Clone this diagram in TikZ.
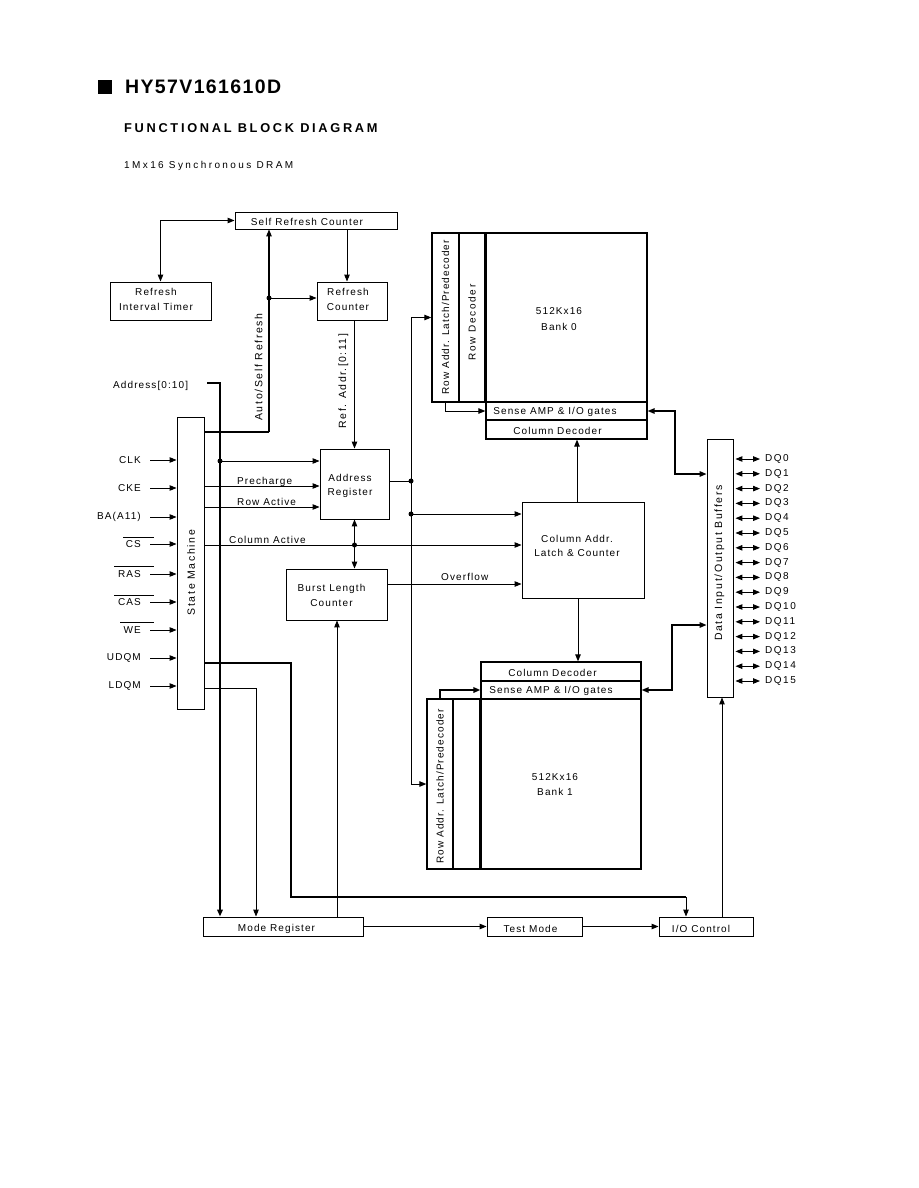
\documentclass[tikz,border=0pt]{standalone}
\usepackage{fontspec}
\setmainfont{Liberation Sans}
\usetikzlibrary{arrows.meta}
\newcommand{\lsp}[1]{\addfontfeature{LetterSpace=#1}}
\begin{document}
\begin{tikzpicture}[x=1pt,y=-1pt,>={Triangle[length=7pt,width=5.5pt]},
  box/.style={draw,line width=0.9pt,inner sep=0pt},
  bk/.style={draw,line width=1.3pt,inner sep=0pt},
  txt/.style={inner sep=0pt,align=center,font=\fontsize{10}{14}\selectfont\lsp{11}},
  dqt/.style={inner sep=0pt,anchor=west,font=\fontsize{10}{14}\selectfont\lsp{15}},
  rtxt/.style={inner sep=0pt,rotate=90,font=\fontsize{10.5}{12}\selectfont\lsp{16}},
  ln/.style={line width=0.95pt},
  thk/.style={line width=2pt},
  dot/.style={circle,fill,inner sep=0pt,minimum size=5pt}]
\fill[white] (0,0) rectangle (918,1188);
\useasboundingbox (0,0) rectangle (918,1188);

% ---------- heading ----------
\node[fill,minimum size=14pt,inner sep=0pt] (sq) at (104.5,87) {};
\node[anchor=west,inner sep=0pt,font=\fontsize{19.5}{22}\selectfont\bfseries\lsp{7}] (title) at (125,87) {HY57V161610D};
\node[anchor=west,inner sep=0pt,font=\fontsize{12.8}{14}\selectfont\bfseries\lsp{21}] (sub) at (124,128) {FUNCTIONAL BLOCK DIAGRAM};
\node[anchor=west,inner sep=0pt,font=\fontsize{10}{12}\selectfont\lsp{24}] (dev) at (124,166) {1Mx16 Synchronous DRAM};

% ---------- boxes ----------
\node[box,minimum width=162pt,minimum height=17pt] (src) at (316,220.5) {};
\node[box,minimum width=101pt,minimum height=38pt] (rit) at (160.5,301) {};
\node[box,minimum width=70pt,minimum height=38pt] (rc) at (352,301) {};
\node[box,minimum width=27pt,minimum height=292pt] (sm) at (190.5,563) {};
\node[box,minimum width=69pt,minimum height=70pt] (ar) at (354.5,484) {};
\node[box,minimum width=101pt,minimum height=51pt] (blc) at (336.5,594.5) {};
\node[box,minimum width=122pt,minimum height=96pt] (cal) at (583,550) {};
% bank 0
\node[bk,minimum width=27pt,minimum height=169pt] (lat0) at (445.5,317.5) {};
\node[bk,minimum width=27pt,minimum height=169pt] (rdec0) at (472.5,317.5) {};
\node[bk,minimum width=161pt,minimum height=169pt] (arr0) at (566.5,317.5) {};
\node[bk,minimum width=161pt,minimum height=18pt] (sa0) at (566.5,411) {};
\node[bk,minimum width=161pt,minimum height=19pt] (cd0) at (566.5,429.5) {};
\draw[thk] (arr0.north west) -- (arr0.south west);
% bank 1
\node[bk,minimum width=160pt,minimum height=19pt] (cd1) at (561,671.5) {};
\node[bk,minimum width=160pt,minimum height=18pt] (sa1) at (561,690) {};
\node[bk,minimum width=160pt,minimum height=170pt] (arr1) at (561,784) {};
\node[bk,minimum width=26pt,minimum height=170pt] (lat1) at (440,784) {};
\node[bk,minimum width=28pt,minimum height=170pt] (rdec1) at (467,784) {};
\draw[thk] (arr1.north west) -- (arr1.south west);
\node[box,minimum width=26pt,minimum height=258pt] (dio) at (720,568) {};
\node[box,minimum width=160pt,minimum height=19pt] (mr) at (283,926.5) {};
\node[box,minimum width=95pt,minimum height=19pt] (tm) at (534.5,926.5) {};
\node[box,minimum width=94pt,minimum height=19pt] (ioc) at (706,926.5) {};

% ---------- box texts ----------
\node[txt] (tsrc) at (307,222) {Self Refresh Counter};
\node[txt] (trit) at (156,299.5) {Refresh\\[1pt]Interval Timer};
\node[txt] (trc) at (348,299.5) {Refresh\\[1pt]Counter};
\node[txt] (tar) at (350,486) {Address\\Register};
\node[txt] (tblc) at (331.5,595.5) {Burst Length\\[1pt]Counter};
\node[txt] (tcal) at (577,546) {Column Addr.\\Latch \& Counter};
\node[txt] (tarr0) at (559,319) {512Kx16\\[2pt]Bank 0};
\node[txt] (tsa0) at (555,412) {Sense AMP \& I/O gates};
\node[txt] (tcd0) at (557.5,431) {Column Decoder};
\node[txt] (tcd1) at (552.5,673) {Column Decoder};
\node[txt] (tsa1) at (551,691) {Sense AMP \& I/O gates};
\node[txt] (tarr1) at (555,784.5) {512Kx16\\[1pt]Bank 1};
\node[rtxt,font=\fontsize{10}{12}\selectfont\lsp{11}] (tlat0) at (445.5,317.5) {Row Addr. Latch/Predecoder};
\node[rtxt,font=\fontsize{10}{12}\selectfont\lsp{17}] (trdec0) at (472,322.5) {Row Decoder};
\node[rtxt,font=\fontsize{10}{12}\selectfont\lsp{11}] (tlat1) at (440,786.5) {Row Addr. Latch/Predecoder};
\node[rtxt] (tsm) at (191,572.5) {State Machine};
\node[rtxt] (tdio) at (719.5,563) {Data Input/Output Buffers};
\node[txt] (tmr) at (276.5,929) {Mode Register};
\node[txt] (ttm) at (530.5,929) {Test Mode};
\node[txt] (tioc) at (701,929) {I/O Control};

% ---------- refresh section ----------
\draw[ln,<->] (src.west) -| (rit.north);
\coordinate (x347) at (347,0);
\draw[ln,->] (x347 |- src.south) -- (x347 |- rc.north);
\coordinate (as) at (269,432);
\coordinate (asd) at (269,298);
\draw[thk] (sm.east |- as) -- (as);
\draw[line width=1.1pt,->] (as) -- (as |- src.south);
\draw[ln,->] (asd) -- (asd -| rc.west);
\node[dot] (dasd) at (asd) {};
\node[rtxt] (tas) at (258.5,367) {Auto/Self Refresh};
\draw[ln,->] (rc.south -| ar.north) -- (ar.north);
\node[rtxt,font=\fontsize{10.5}{12}\selectfont\lsp{14}] (tra) at (343.5,381) {Ref. Addr.[0:11]};

% ---------- address bus ----------
\node[txt,anchor=west] (addr) at (113,386) {Address[0:10]};
\coordinate (a1) at (207,383);
\coordinate (a2) at (220,383);
\draw[thk,->] (a1) -- (a2) -- (a2 |- mr.north);
\coordinate (d1) at (220,461);
\node[dot] (dd1) at (d1) {};
\draw[ln,->] (d1) -- (d1 -| ar.west);

% ---------- inputs ----------
\foreach \nm/\lab/\yy in {clk/CLK/460,cke/CKE/488,ba/BA(A11)/517,cs/CS/544,ras/RAS/574,cas/CAS/602,we/WE/630,udqm/UDQM/658,ldqm/LDQM/686}{
  \node[txt,anchor=east] (\nm) at (141,\yy) {\lab};
  \draw[ln,->] ([xshift=9pt]\nm.east) -- (\nm.east -| sm.west);
}
\draw[ln] (123,537) -- (154,537);
\draw[ln] (114,566) -- (154,566);
\draw[ln] (114,595) -- (154,595);
\draw[ln] (120,622) -- (154,622);

% ---------- state machine outputs ----------
\coordinate (pc) at (204,486);
\draw[ln,->] (sm.east |- pc) -- (pc -| ar.west);
\node[txt,anchor=base west] (tpc) at (237,484) {Precharge};
\coordinate (ra) at (204,507);
\draw[ln,->] (sm.east |- ra) -- (ra -| ar.west);
\node[txt,anchor=base west] (tra2) at (237,505) {Row Active};
\coordinate (ca) at (204,545);
\draw[ln,->] (sm.east |- ca) -- (ca -| cal.west);
\node[txt,anchor=base west] (tca) at (229,543) {Column Active};
\draw[ln,<->] (ar.south) -- (ar.south |- blc.north);
\node[dot] (dca) at (ar.south |- ca) {};

% ---------- address register outputs ----------
\coordinate (j1) at (411,481);
\coordinate (j2) at (411,514);
\draw[ln] (ar.east |- j1) -- (j1);
\draw[ln,->] (j1) |- (lat0.west);
\draw[ln,->] (j1) |- (lat1.west);
\node[dot] (dj1) at (j1) {};
\node[dot] (dj2) at (j2) {};
\draw[ln,->] (j2) -- (j2 -| cal.west);
\coordinate (of) at (387,584);
\draw[ln,->] (blc.east |- of) -- (of -| cal.west);
\node[txt,anchor=base west] (tof) at (441,580.5) {Overflow};

% ---------- column addr to banks ----------
\coordinate (cx0) at (577,0);
\draw[ln,->] (cx0 |- cal.north) -- (cx0 |- cd0.south);
\coordinate (cx1) at (578,0);
\draw[ln,->] (cx1 |- cal.south) -- (cx1 |- cd1.north);
\draw[ln,->] (lat0.south) |- (sa0.west);
\draw[thk,->] (lat1.north) |- (sa1.west);

% ---------- sense amps to data buffers ----------
\coordinate (s0) at (675,474);
\draw[line width=1.4pt,<->] (sa0.east) -| (s0) -- (s0 -| dio.west);
\coordinate (s1) at (672,625);
\draw[line width=1.4pt,<->] (sa1.east) -| (s1) -- (s1 -| dio.west);

% ---------- DQ pins ----------
\foreach \i in {0,...,15}{
  \node[dqt] (dq\i) at (765,{459+\i*14.8}) {DQ\i};
  \path (dio.east |- dq\i.west) coordinate (p\i);
  \draw[ln,<->] ([xshift=2pt]p\i) -- ([xshift=-5pt]dq\i.west);
}

% ---------- bottom ----------
\coordinate (u1) at (291,663);
\coordinate (u2) at (291,897);
\coordinate (u3) at (686,897);
\draw[thk] (sm.east |- u1) -- (u1) -- (u2) -- (u3);
\draw[ln,->] (u3) -- (u3 |- ioc.north);
\coordinate (l1) at (256,688);
\draw[ln,->] (sm.east |- l1) -- (l1) -- (l1 |- mr.north);
\coordinate (m1) at (337,0);
\draw[ln,->] (m1 |- mr.north) -- (m1 |- blc.south);
\coordinate (i1) at (722,0);
\draw[ln,->] (i1 |- ioc.north) -- (i1 |- dio.south);
\draw[ln,->] (mr.east) -- (tm.west);
\draw[ln,->] (tm.east) -- (ioc.west);
\end{tikzpicture}
\end{document}
